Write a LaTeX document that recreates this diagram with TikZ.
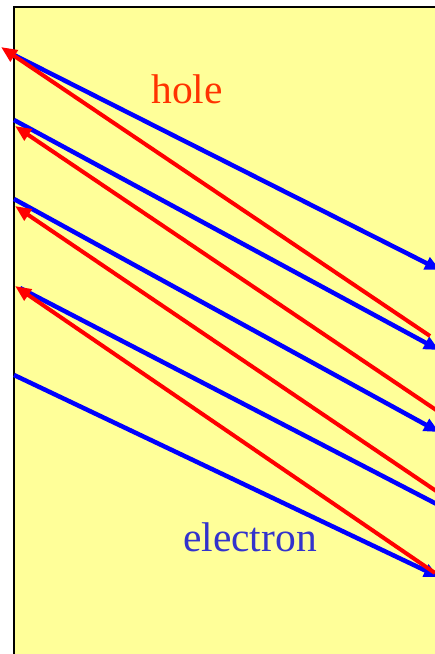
\documentclass[tikz,border=0pt]{standalone}
\usepackage{fontspec}
\setmainfont{Liberation Serif}
\usetikzlibrary{arrows.meta}
\definecolor{bgyellow}{RGB}{255,255,153}
\definecolor{holered}{RGB}{255,51,0}
\definecolor{elecblue}{RGB}{51,51,204}
\tikzset{
  eline/.style={draw={rgb,255:red,0;green,0;blue,255}, line width=4.5pt, -{Triangle[length=15pt,width=13pt]}},
  hline/.style={draw={rgb,255:red,255;green,0;blue,0}, line width=4pt, -{Triangle[length=16pt,width=13pt]}},
  lbl/.style={font=\fontsize{41.5}{41.5}\selectfont, inner sep=0pt, anchor=base}
}
\begin{document}
\begin{tikzpicture}[x=1pt,y=-1pt]
\useasboundingbox (0,0) rectangle (435,654);
\fill[bgyellow] (14,7) rectangle (445,660);
\draw[black, line width=2.5pt] (14,664) -- (14,7) -- (445,7);
% electron paths
\coordinate (b1s) at (14,55);   \coordinate (b1e) at (440,270);
\coordinate (b2s) at (14,120);  \coordinate (b2e) at (439,350);
\coordinate (b3s) at (14,199);  \coordinate (b3e) at (439,432);
\coordinate (b4s) at (20,288);  \coordinate (b4e) at (452,512);
\coordinate (b5s) at (14,375);  \coordinate (b5e) at (439,577);
\draw[eline] (b1s) -- (b1e);
\draw[eline] (b2s) -- (b2e);
\draw[eline] (b3s) -- (b3e);
\draw[eline] (b4s) -- (b4e);
\draw[eline] (b5s) -- (b5e);
% hole paths
\coordinate (r1s) at (430,336); \coordinate (r1e) at (1,47);
\coordinate (r2s) at (445,416); \coordinate (r2e) at (15,126);
\coordinate (r3s) at (445,497); \coordinate (r3e) at (15,206);
\coordinate (r4s) at (435,573); \coordinate (r4e) at (15,286);
\draw[hline] (r1s) -- (r1e);
\draw[hline] (r2s) -- (r2e);
\draw[hline] (r3s) -- (r3e);
\draw[hline] (r4s) -- (r4e);
\node[lbl, text=holered] (hole) at (187,103) {hole};
\node[lbl, text=elecblue] (elec) at (250,551) {electron};
\end{tikzpicture}
\end{document}
